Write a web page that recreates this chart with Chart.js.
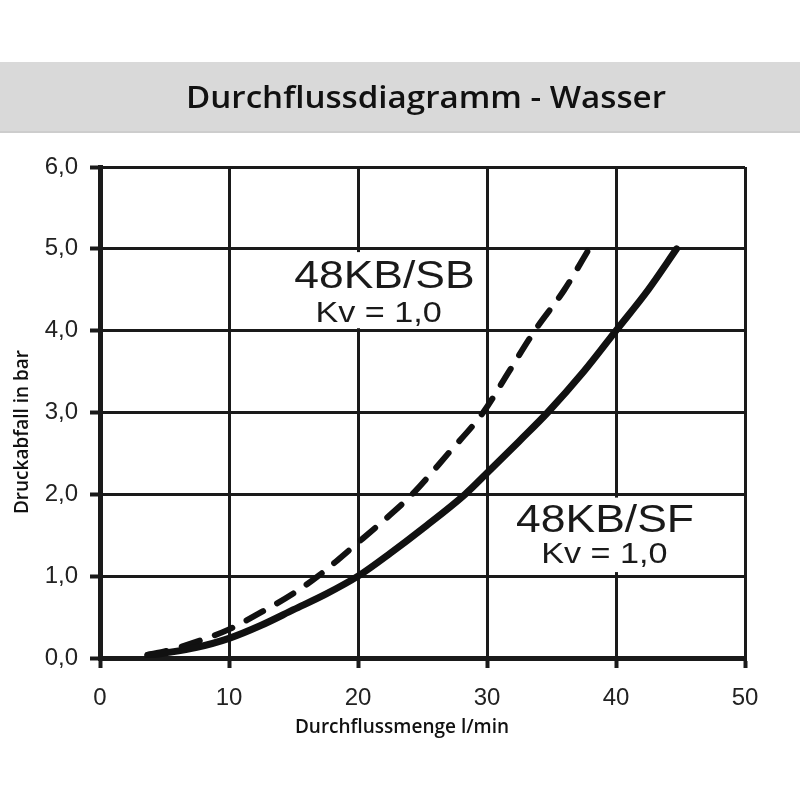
<!DOCTYPE html>
<html>
<head>
<meta charset="utf-8">
<script src="https://cdn.jsdelivr.net/npm/chart.js@4/dist/chart.umd.min.js"></script>
<style>
  html, body { margin: 0; padding: 0; background: #ffffff; }
  #wrap { width: 800px; height: 800px; position: relative; }
</style>
</head>
<body>
<div id="wrap"><canvas id="c" width="800" height="800"></canvas></div>
<script>
// ---- data ----
const titleText = 'Durchflussdiagramm - Wasser';
const xAxisTitle = 'Durchflussmenge l/min';
const yAxisTitle = 'Druckabfall in bar';

const xTicks = [0, 10, 20, 30, 40, 50];
const yTicks = [0, 1, 2, 3, 4, 5, 6];

// 48KB/SF (solid)
const sfFlow = [3.7, 5, 7.5, 10, 12.5, 15, 17.5, 20, 22.5, 25, 28.3, 30, 32.5, 34.7, 37.5, 40, 42.5, 44.7];
const sfDrop = [0.03, 0.06, 0.13, 0.24, 0.40, 0.59, 0.78, 1.0, 1.28, 1.58, 2.0, 2.26, 2.65, 3.0, 3.5, 4.0, 4.5, 5.0];

// 48KB/SB (dashed)
const sbFlow = [3.7, 5, 7.5, 10, 12.5, 15, 16.9, 20, 22.5, 24.2, 27, 29.7, 31.7, 33.7, 36, 38.1];
const sbDrop = [0.04, 0.08, 0.20, 0.35, 0.56, 0.79, 1.0, 1.41, 1.75, 2.0, 2.5, 3.0, 3.5, 4.0, 4.5, 5.05];

const sbName = '48KB/SB';
const sfName = '48KB/SF';
const kvText = 'Kv = 1,0';

// ---- helpers ----
const toPts = (xs, ys) => xs.map((x, i) => ({ x: x, y: ys[i] }));
const INK = '#1a1a1a';

function drawStretched(ctx, text, cx, baseline, font, sx) {
  ctx.save();
  ctx.font = font;
  ctx.textAlign = 'center';
  ctx.textBaseline = 'alphabetic';
  ctx.translate(cx, baseline);
  ctx.scale(sx, 1);
  ctx.fillText(text, 0, 0);
  ctx.restore();
}

const decorPlugin = {
  id: 'decor',
  beforeDraw(chart) {
    const ctx = chart.ctx;
    ctx.save();
    // title banner
    ctx.fillStyle = '#d9d9d9';
    ctx.fillRect(0, 62, chart.width, 70);
    ctx.fillStyle = '#cdcdcd';
    ctx.fillRect(0, 131, chart.width, 2);
    ctx.fillStyle = '#111111';
    ctx.font = '600 31px "Open Sans"';
    const w = ctx.measureText(titleText).width;
    drawStretched(ctx, titleText, 426, 108, '600 31px "Open Sans"', 480 / w);
    // axis titles
    ctx.fillStyle = '#111111';
    ctx.font = '600 19px "Open Sans"';
    ctx.textAlign = 'center';
    ctx.textBaseline = 'alphabetic';
    ctx.fillText(xAxisTitle, 402, 733);
    ctx.translate(28, 432);
    ctx.rotate(-Math.PI / 2);
    ctx.fillText(yAxisTitle, 0, 0);
    ctx.restore();
  },
  beforeDatasetsDraw(chart) {
    const ctx = chart.ctx;
    const xs = chart.scales.x, ys = chart.scales.y;
    ctx.save();
    ctx.fillStyle = '#ffffff';
    // label backgrounds (cover grid lines behind labels)
    let x0 = xs.getPixelForValue(14.3), x1 = xs.getPixelForValue(29.6);
    let y0 = ys.getPixelForValue(4.96), y1 = ys.getPixelForValue(4.03);
    ctx.fillRect(x0, y0, x1 - x0, y1 - y0);
    x0 = xs.getPixelForValue(31.8); x1 = xs.getPixelForValue(49.5);
    y0 = ys.getPixelForValue(1.96); y1 = ys.getPixelForValue(1.05);
    ctx.fillRect(x0, y0, x1 - x0, y1 - y0);
    ctx.restore();
  },
  afterDatasetsDraw(chart) {
    const ctx = chart.ctx;
    const xs = chart.scales.x, ys = chart.scales.y;
    ctx.save();
    ctx.fillStyle = '#1a1a1a';
    drawStretched(ctx, sbName, xs.getPixelForValue(22.05), ys.getPixelForValue(4.52), '39px "Liberation Sans"', 1.14);
    drawStretched(ctx, kvText, xs.getPixelForValue(21.6), ys.getPixelForValue(4.11), '30px "Liberation Sans"', 1.14);
    drawStretched(ctx, sfName, xs.getPixelForValue(39.15), ys.getPixelForValue(1.54), '39px "Liberation Sans"', 1.14);
    drawStretched(ctx, kvText, xs.getPixelForValue(39.1), ys.getPixelForValue(1.16), '30px "Liberation Sans"', 1.14);
    ctx.restore();
  }
};

new Chart(document.getElementById('c'), {
  type: 'line',
  data: {
    datasets: [
      {
        label: sfName,
        data: toPts(sfFlow, sfDrop),
        borderColor: '#111111',
        borderWidth: 7,
        borderCapStyle: 'round',
        borderJoinStyle: 'round',
        pointRadius: 0,
        cubicInterpolationMode: 'monotone',
        fill: false
      },
      {
        label: sbName,
        data: toPts(sbFlow, sbDrop),
        borderColor: '#111111',
        borderWidth: 6,
        borderDash: [19, 16],
        borderCapStyle: 'round',
        borderJoinStyle: 'round',
        pointRadius: 0,
        cubicInterpolationMode: 'monotone',
        fill: false
      }
    ]
  },
  options: {
    responsive: false,
    animation: false,
    devicePixelRatio: 1,
    layout: { padding: { top: 167, right: 55, bottom: 0, left: 0 } },
    plugins: {
      legend: { display: false },
      title: { display: false },
      tooltip: { enabled: false }
    },
    scales: {
      x: {
        type: 'linear',
        min: 0,
        max: 50,
        afterFit: s => { s.height = 142; },
        afterBuildTicks: s => { s.ticks = xTicks.map(v => ({ value: v })); },
        ticks: {
          color: '#222222',
          font: { family: 'Liberation Sans', size: 24 },
          padding: 16,
          maxRotation: 0,
          callback: v => String(v)
        },
        grid: { color: INK, lineWidth: 3, tickLength: 10, tickWidth: 4, tickColor: INK },
        border: { display: true, color: INK, width: 5 }
      },
      y: {
        type: 'linear',
        min: 0,
        max: 6,
        afterFit: s => { s.width = 100; },
        afterBuildTicks: s => { s.ticks = yTicks.map(v => ({ value: v })); },
        ticks: {
          color: '#222222',
          font: { family: 'Liberation Sans', size: 24 },
          padding: 12,
          callback: v => v.toFixed(1).replace('.', ',')
        },
        grid: { color: INK, lineWidth: 3, tickLength: 10, tickWidth: 4, tickColor: INK },
        border: { display: true, color: INK, width: 5 }
      }
    }
  },
  plugins: [decorPlugin]
});
</script>
</body>
</html>
